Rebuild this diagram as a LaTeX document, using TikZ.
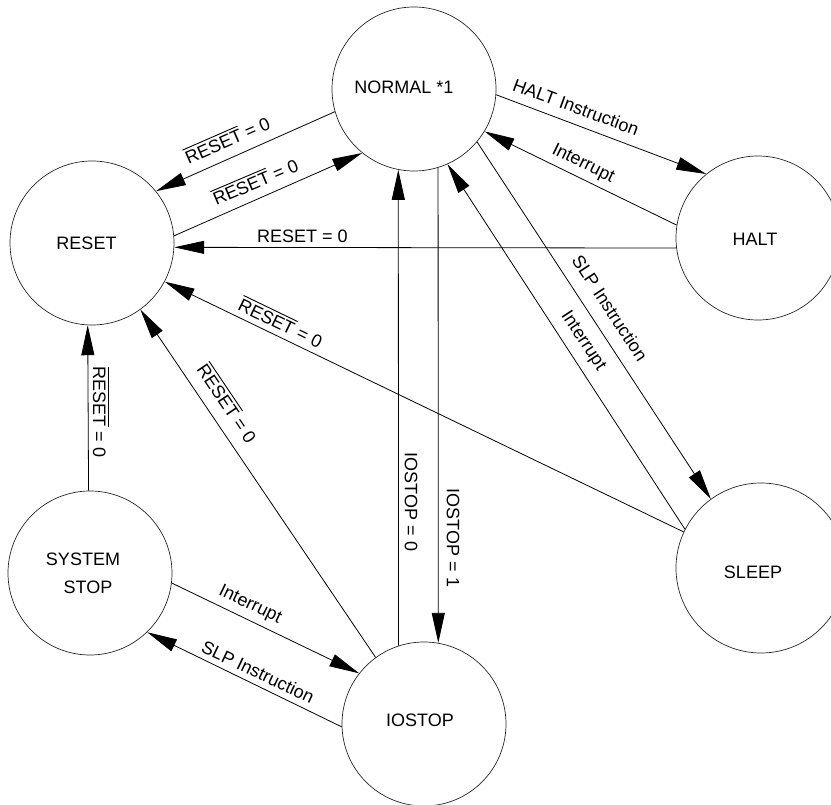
\documentclass[tikz,border=0pt]{standalone}
\usepackage{fontspec}
\setmainfont{Liberation Sans}
\usetikzlibrary{arrows.meta}
\newcommand\ovl[1]{\vbox{\hrule height 0.9pt\kern 2.5pt\hbox{#1}}}
\begin{document}
\begin{tikzpicture}[x=1pt,y=-1pt,
  txt/.style={font=\fontsize{18pt}{28pt}\selectfont,inner sep=0pt},
  state/.style={circle,draw=black!85,line width=0.7pt,minimum size=164pt,inner sep=0pt},
  conn/.style={line width=0.8pt,-{Triangle[length=30pt,width=13pt]}},
  lbl/.style={txt}]
\useasboundingbox (0,0) rectangle (831,805);
\clip (0,0) rectangle (831,805);
% states
\node[state,label={[txt,xshift=-10pt,yshift=1.8pt]center:NORMAL *1}] (normal) at (414,89) {};
\node[state,label={[txt,xshift=-5.5pt]center:RESET}] (reset) at (92,243) {};
\node[state,label={[txt,xshift=-3pt,yshift=-1pt]center:HALT}] (halt) at (758,238) {};
\node[state,minimum size=170pt,label={[txt,xshift=-8pt,yshift=-4pt]center:SLEEP}] (sleep) at (761,568) {};
\node[state,label={[txt,align=center,xshift=-7pt]center:SYSTEM\\\hspace*{10pt}STOP}] (sstop) at (90,573) {};
\node[state,label={[txt,xshift=-4pt,yshift=3.5pt]center:IOSTOP}] (iostop) at (424,724) {};
% connectors
\draw[conn] (normal.196) -- (reset.39);
\draw[conn] (reset.5.6) -- (normal.231.1);
\draw[conn] (halt.187.005) -- (reset.-3.495);
\draw[conn] (normal.-4.8) -- (halt.129.2);
\draw[conn] (halt.171.5) -- (normal.-31);
\draw[conn] (normal.-40.6) -- (sleep.126.3);
\draw[conn] (sleep.153.1) -- (normal.-66.7);
\draw[conn] (sleep.155.5) -- (reset.-28.4);
\draw[conn] (iostop.126.5) -- (reset.-54.4);
\draw[conn] (iostop.108.49) -- (normal.-101.25);
\draw[conn] (normal.-73.71) -- (iostop.80.88);
\draw[conn] (sstop.91.75) -- (reset.-93.15);
\draw[conn] (sstop.-7) -- (iostop.142.2);
\draw[conn] (iostop.182.1) -- (sstop.-46.4);
% labels
\node[lbl,rotate=23.6] (l1) at (227,139) {\ovl{RESET} = 0};
\node[lbl,rotate=23] (l2) at (255,181) {\ovl{RESET} = 0};
\node[lbl] (l3) at (302.5,236) {RESET = 0};
\node[lbl,rotate=-20.3] (l4) at (576,107) {HALT Instruction};
\node[lbl,rotate=-26.1] (l5) at (583,164) {Interrupt};
\node[lbl,rotate=-56.8] (l6) at (610,308) {SLP Instruction};
\node[lbl,rotate=-56.7] (l7) at (583,341) {Interrupt};
\node[lbl,rotate=-25.8] (l8) at (281,322) {\ovl{RESET} = 0};
\node[lbl,rotate=-56] (l9) at (228,403) {\ovl{RESET} = 0};
\node[lbl,rotate=-90] (l10) at (411,502) {IOSTOP = 0};
\node[lbl,rotate=-90] (l11) at (453,538) {IOSTOP = 1};
\node[lbl,rotate=-90] (l12) at (101,412) {\ovl{RESET} = 0};
\node[lbl,rotate=-25.7] (l13) at (250,605) {Interrupt};
\node[lbl,rotate=-25.5] (l14) at (258,672) {SLP Instruction};
\end{tikzpicture}
\end{document}
